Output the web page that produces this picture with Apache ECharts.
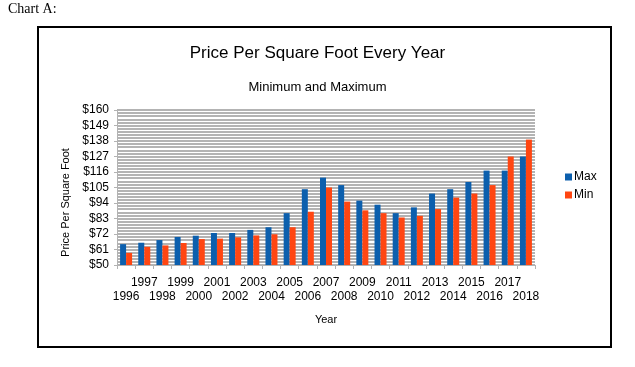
<!DOCTYPE html>
<html>
<head>
<meta charset="utf-8">
<script src="https://cdn.jsdelivr.net/npm/echarts@6/dist/echarts.min.js"></script>
<style>html,body{margin:0;padding:0;background:#fff;}#c{width:635px;height:367px;}</style>
</head>
<body>
<div id="c"></div>
<script>
const years = ['1996','1997','1998','1999','2000','2001','2002','2003','2004','2005','2006','2007','2008','2009','2010','2011','2012','2013','2014','2015','2016','2017','2018'];
const maxValues = [64.8,65.8,67.7,69.9,70.8,72.7,72.7,74.9,76.8,86.8,103.8,112,106.7,95.7,92.8,86.8,90.9,100.7,103.8,108.9,117,117,127];
const minValues = [58.6,62.9,63.9,65.6,68.4,68.7,69.6,71,71.8,76.8,87.8,105,95,88.8,86.8,83.7,84.9,89.7,97.8,100.7,106.7,127,139];
const yTicks = [50,61,72,83,94,105,116,127,138,149,160];

const chart = echarts.init(document.getElementById('c'), null, {renderer:'canvas'});
const font = 'Liberation Sans, Arial, sans-serif';
chart.setOption({
  animation:false,
  backgroundColor:'#fff',
  graphic:[
    {type:'text', left:8, top:2, style:{text:'Chart A:', font:'14px "Liberation Serif", serif', fill:'#000'}},
    {type:'rect', shape:{x:38, y:27, width:573, height:320}, style:{fill:'none', stroke:'#000', lineWidth:2}, z:-1}
  ],
  title:[
    {text:'Price Per Square Foot Every Year', left:'center', top:40, textStyle:{fontFamily:font, fontSize:17, fontWeight:'normal', color:'#000'}},
    {text:'Minimum and Maximum', left:'center', top:76, textStyle:{fontFamily:font, fontSize:13, fontWeight:'normal', color:'#000'}}
  ],
  legend:{
    orient:'vertical', left:560, top:166, itemWidth:7, itemHeight:7, itemGap:6, icon:'rect',
    textStyle:{fontFamily:font, fontSize:12, color:'#000', padding:[0,0,0,-3]},
    data:['Max','Min']
  },
  grid:{left:117, right:100, top:110, bottom:102},
  xAxis:{
    type:'category', data:years,
    name:'Year', nameLocation:'middle', nameGap:49,
    nameTextStyle:{fontFamily:font, fontSize:11, color:'#000'},
    axisLine:{lineStyle:{color:'#b3b3b3'}},
    axisTick:{show:true, length:4, lineStyle:{color:'#b3b3b3'}},
    axisLabel:{interval:0, margin:11, fontFamily:font, fontSize:12, color:'#000', lineHeight:14,
      formatter:function(v, i){ return (i % 2 === 0) ? ('\n' + v) : (v + '\n'); }}
  },
  yAxis:{
    type:'value', min:yTicks[0], max:yTicks[yTicks.length-1], interval:11,
    name:'Price Per Square Foot', nameLocation:'middle', nameGap:44, nameRotate:90,
    nameTextStyle:{fontFamily:font, fontSize:11, color:'#000', padding:[0,0,0,-30]},
    axisLine:{show:true, lineStyle:{color:'#b3b3b3'}},
    axisTick:{show:true, length:3, lineStyle:{color:'#b3b3b3'}},
    axisLabel:{fontFamily:font, fontSize:12, color:'#000', margin:8, formatter:function(v){return '$' + v;}},
    splitLine:{show:true, lineStyle:{color:'#b3b3b3', width:2}},
    minorSplitLine:{show:true, lineStyle:{color:'#b3b3b3', width:2}},
    minorTick:{show:false, splitNumber:5}
  },
  series:[
    {name:'Max', type:'bar', data:maxValues, barWidth:6, barGap:'0%', itemStyle:{color:'#0c5fad'}},
    {name:'Min', type:'bar', data:minValues, barWidth:6, barGap:'0%', itemStyle:{color:'#ff4612'}}
  ]
});
</script>
</body>
</html>
